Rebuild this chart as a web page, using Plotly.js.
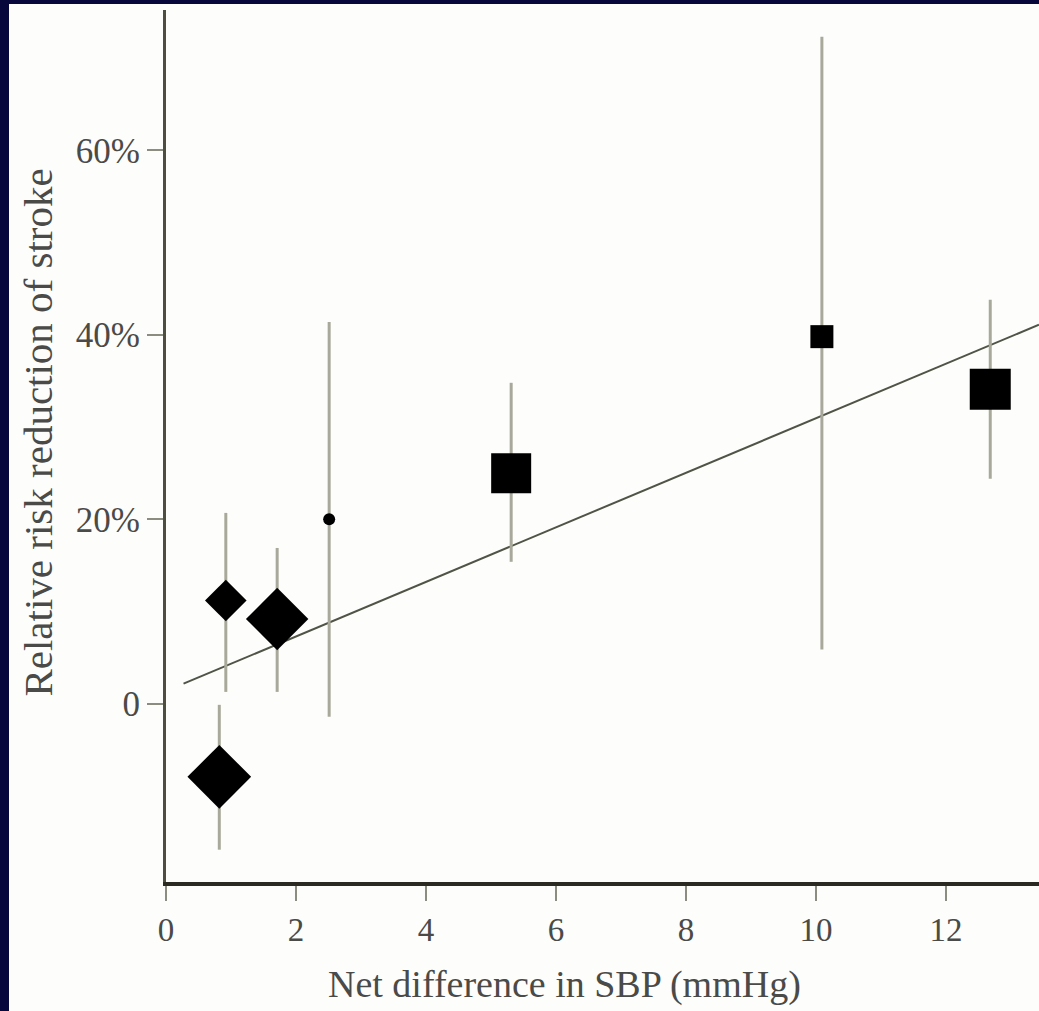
<!DOCTYPE html>
<html>
<head>
<meta charset="utf-8">
<script src="https://cdn.plot.ly/plotly-3.0.1.min.js"></script>
<style>
  html, body { margin: 0; padding: 0; background: #07073c; width: 1039px; height: 1011px; overflow: hidden; }
  #chart { position: absolute; left: 9px; top: 4px; width: 1030px; height: 1007px; }
</style>
</head>
<body>
<div id="chart"></div>
<script>
// Trials: net SBP difference (mmHg) vs relative risk reduction of stroke (%)
const sbpDiff   = [0.82, 0.92, 1.71, 2.51, 5.31, 10.09, 12.68];
const rrr       = [-7.9, 11.2, 9.2, 20.0, 25.0, 39.8, 34.1];
const ciUpper   = [-0.1, 20.7, 16.9, 41.4, 34.8, 72.3, 43.8];
const ciLower   = [-15.8, 1.3, 1.3, -1.4, 15.4, 5.9, 24.4];
const symbols   = ['diamond', 'diamond', 'diamond', 'circle', 'square', 'square', 'square'];
const weights   = [49, 32, 48, 12, 40, 23, 41];   // marker size (trial weight)

// Fitted regression line end points
const fitX = [0.27, 13.43];
const fitY = [2.2, 41.1];

const xTicks = [0, 2, 4, 6, 8, 10, 12];
const yTickVals = [0, 20, 40, 60];
const yTickText = ['0', '20%', '40%', '60%'];

const errPlus  = rrr.map((v, i) => ciUpper[i] - v);
const errMinus = rrr.map((v, i) => v - ciLower[i]);

const serif = 'Liberation Serif, Times New Roman, serif';
const txt = '#4a4a48';

const traces = [
  {
    x: fitX, y: fitY, type: 'scatter', mode: 'lines',
    line: { color: '#4f5446', width: 2 },
    hoverinfo: 'skip', showlegend: false
  },
  {
    x: sbpDiff, y: rrr, type: 'scatter', mode: 'markers',
    opacity: 1,
    marker: { symbol: symbols, size: weights, color: 'rgb(0,0,0)', opacity: 1, line: { width: 0 } },
    error_y: {
      type: 'data', symmetric: false, array: errPlus, arrayminus: errMinus,
      color: '#a9a99b', thickness: 3, width: 0
    },
    showlegend: false
  }
];

const layout = {
  width: 1030, height: 1007,
  margin: { l: 157, r: 0, t: 6, b: 129, pad: 0 },
  paper_bgcolor: '#fdfdfb', plot_bgcolor: '#fdfdfb',
  showlegend: false,
  font: { family: serif, color: txt },
  xaxis: {
    range: [0, 13.43], showgrid: false, zeroline: false,
    showline: true, linecolor: '#2a2a22', linewidth: 4,
    ticks: 'outside', ticklen: 15, tickwidth: 2, tickcolor: '#8c8c80',
    tickvals: xTicks, tickfont: { family: serif, size: 33, color: txt }
  },
  yaxis: {
    range: [-19.3, 75.2], showgrid: false, zeroline: false,
    showline: true, linecolor: '#4d4d40', linewidth: 3,
    ticks: 'outside', ticklen: 16, tickwidth: 2, tickcolor: '#8c8c80',
    tickvals: yTickVals, ticktext: yTickText,
    tickfont: { family: serif, size: 35, color: txt }
  },
  annotations: [
    {
      text: 'Net difference in SBP (mmHg)', xref: 'paper', yref: 'paper',
      x: 0.457, y: -0.118, xanchor: 'center', yanchor: 'middle', showarrow: false,
      font: { family: serif, size: 38, color: txt }
    },
    {
      text: 'Relative risk reduction of stroke', xref: 'paper', yref: 'paper',
      x: -0.147, y: 0.515, xanchor: 'center', yanchor: 'middle', showarrow: false,
      textangle: -90,
      font: { family: serif, size: 41, color: txt }
    }
  ]
};

Plotly.newPlot('chart', traces, layout, { displayModeBar: false, staticPlot: true });
</script>
</body>
</html>
